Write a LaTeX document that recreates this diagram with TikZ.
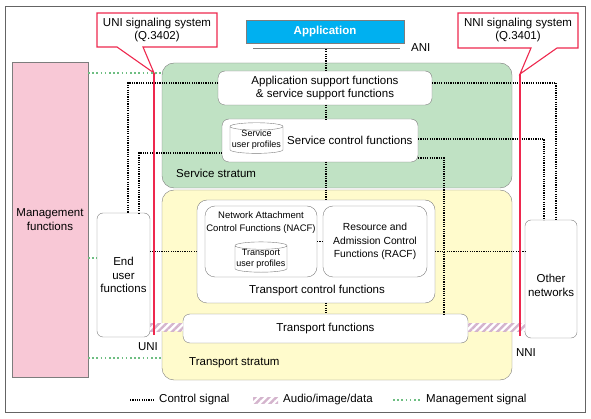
\documentclass[tikz,border=0pt]{standalone}
\usepackage{fontspec}
\setmainfont{Liberation Sans}
\usetikzlibrary{shapes.geometric,patterns.meta,positioning}
\definecolor{svcgreen}{RGB}{192,226,196}
\definecolor{trayellow}{RGB}{255,251,204}
\definecolor{mgmtpink}{RGB}{248,200,214}
\definecolor{appblue}{RGB}{0,176,240}
\definecolor{sigred}{RGB}{238,40,78}
\definecolor{mgmtgreen}{RGB}{110,190,130}
\definecolor{hatchpink}{RGB}{212,180,205}
\definecolor{boxgray}{RGB}{125,125,125}
\tikzset{
	fbox/.style={draw=boxgray, fill=white, rounded corners=7pt, inner sep=0pt, outer sep=0pt, align=center},
	stratum/.style={draw=boxgray, rounded corners=12pt, inner sep=0pt, outer sep=0pt},
	profile/.style={cylinder, shape border rotate=90, aspect=0.15, draw=boxgray, fill=white,
		inner sep=0pt, outer sep=0pt, align=center, font=\fontsize{9}{11}\selectfont},
	ctrl/.style={black, line width=1.8pt, dash pattern=on 1.2pt off 1.1pt}, % control signal
	mgmt/.style={mgmtgreen, line width=1.6pt, dash pattern=on 1.6pt off 2.6pt}, % management signal
	avdata/.style={preaction={fill=white}, pattern={Lines[angle=45,distance=5pt,line width=2.4pt]}, pattern color=hatchpink},
	sigline/.style={sigred, line width=2pt},
	callout/.style={draw=sigred, fill=white, line width=1.1pt, line join=miter},
	plain/.style={inner sep=0pt, align=center},
}
\begin{document}
\begin{tikzpicture}[x=1pt, y=-1pt, font=\fontsize{11.5}{13.5}\selectfont]
	\useasboundingbox (0,0) rectangle (591,419);
	\draw[boxgray!80!black, line width=0.8pt] (5,6) rectangle (585,412);

	% strata
	\node[stratum, fill=svcgreen, minimum width=350, minimum height=125] (svcstr) at (337,125.5) {};
	\node[stratum, fill=trayellow, minimum width=350, minimum height=190] (trstr) at (337,285) {};
	\node[plain, anchor=west] (svclbl) at (176,173) {Service stratum};
	\node[plain, anchor=west] (trlbl) at (189,363) {Transport stratum};

	% application and service stratum
	\node[draw=boxgray, fill=appblue, text=white, font=\bfseries\fontsize{11.5}{13.5}\selectfont,
		minimum width=158, minimum height=23, inner sep=0pt] (app) at (325,31.5) {Application};
	\coordinate (anil) at (253,49);
	\coordinate (anir) at (400,49);
	\draw[boxgray, line width=1pt] (anil) -- (anir);
	\node[plain, anchor=west] (anilbl) at (411,48) {ANI};
	\node[fbox, minimum width=214, minimum height=34] (appsup) at (325,88) {Application support functions\\\& service support functions};
	\node[fbox, minimum width=196, minimum height=43] (svc) at (320,140.5) {};
	\node[profile, minimum width=53, minimum height=30] (svcprof) at (256.5,140) {Service\\user profiles};
	\node[plain, right=4pt of svcprof] (svctxt) {Service control functions};

	% transport stratum
	\node[fbox, rounded corners=10pt, minimum width=238, minimum height=103] (tcf) at (316,251.5) {};
	\node[plain] (tcftxt) at (317,291) {Transport control functions};
	\node[fbox, rounded corners=10pt, minimum width=112, minimum height=71] (nacf) at (261,241.5) {};
	\node[plain, font=\fontsize{9.5}{13}\selectfont] (nacftxt) at (261,222.5) {Network Attachment\\Control Functions (NACF)};
	\node[profile, minimum width=52, minimum height=30] (tprof) at (261,259) {Transport\\user profiles};
	\node[fbox, rounded corners=10pt, minimum width=104, minimum height=71,
		font=\fontsize{10.3}{13.5}\selectfont] (racf) at (375,241.5) {Resource and\\Admission Control\\Functions (RACF)};
	\node[fbox, minimum width=285, minimum height=29] (tf) at (325.5,328.5) {Transport functions};

	% outside boxes
	\node[fbox, rounded corners=6pt, minimum width=53, minimum height=124] (enduser) at (123.5,275) {End\\user\\functions};
	\node[fbox, rounded corners=6pt, minimum width=52, minimum height=118] (other) at (551,279) {};
	\node[plain] (othertxt) at (551,285.5) {Other\\networks};
	\node[fbox, rounded corners=0pt, fill=mgmtpink, minimum width=76, minimum height=315] (mgmt) at (50,219.5) {Management\\functions};

	% audio/image/data
	\path[avdata] (enduser.east |- 0,323) rectangle (tf.west |- 0,331);
	\path[avdata] (tf.east |- 0,323) rectangle (other.west |- 0,331);

	% control signals
	\coordinate (axis) at (326,0);
	\draw[ctrl] (axis |- anil) -- (axis |- appsup.north);
	\draw[ctrl] (axis |- appsup.south) -- (axis |- svc.north);
	\draw[ctrl] (axis |- svc.south) -- (axis |- tcf.north);
	\draw[ctrl] (axis |- tcf.south) -- (axis |- tf.north);
	\draw[ctrl] ([yshift=5pt]appsup.west) -| ([xshift=4.5pt]enduser.north);
	\draw[ctrl] ([yshift=-12.5pt]svc.west) -| ([xshift=15.5pt]enduser.north);
	\draw[ctrl] (tcf.west) -- (tcf.west -| enduser.east);
	\draw[ctrl] ([yshift=5pt]appsup.east) -| ([xshift=5pt]other.north);
	\draw[ctrl] ([yshift=1.5pt]svc.east) -| ([xshift=-7pt]other.north);
	\draw[ctrl] ([yshift=-17.5pt]svc.east) -| ([xshift=118.5pt]tf.north);
	\draw[ctrl] (tcf.east) -- (tcf.east -| other.west);
	\draw[ctrl] (nacf.east) -- (racf.west);

	% signaling systems
	\coordinate (uniapex) at (154,73);
	\coordinate (uniend) at (154,335);
	\coordinate (nniapex) at (520,74);
	\coordinate (nniend) at (520,336);
	\draw[callout] (97,13) -- (217,13) -- (217,47) -- (143,47) -- (uniapex) -- (117,47) -- (97,47) -- cycle;
	\node[plain] (unitxt) at (157,30) {UNI signaling system\\(Q.3402)};
	\draw[callout] (458,13) -- (578,13) -- (578,48) -- (557,48) -- (nniapex) -- (531,48) -- (458,48) -- cycle;
	\node[plain] (nnitxt) at (518,30) {NNI signaling system\\(Q.3401)};
	\draw[sigline] (uniapex) -- (uniend);
	\draw[sigline] (nniapex) -- (nniend);
	\node[plain] (unilbl) at (148,347) {UNI};
	\node[plain] (nnilbl) at (526,353) {NNI};

	% management signals
	\draw[mgmt] (mgmt.east |- uniapex) -- (svcstr.west |- uniapex);
	\draw[mgmt] ([yshift=-38.5pt]mgmt.east) -- ([yshift=17pt]enduser.west);
	\draw[mgmt] ([yshift=-138.5pt]mgmt.east) -- ([yshift=-73pt]trstr.west);

	% legend
	\coordinate (lc1) at (130,400);
	\coordinate (lc2) at (155,400);
	\draw[ctrl, line width=1.5pt] (lc1) -- (lc2);
	\node[plain, anchor=west] (lctxt) at (159,400) {Control signal};
	\coordinate (la1) at (253,397);
	\coordinate (la2) at (278,403);
	\path[avdata] (la1) rectangle (la2);
	\node[plain, anchor=west] (latxt) at (283,400) {Audio/image/data};
	\coordinate (lm1) at (393,400);
	\coordinate (lm2) at (422,400);
	\draw[mgmt] (lm1) -- (lm2);
	\node[plain, anchor=west] (lmtxt) at (426,400) {Management signal};
\end{tikzpicture}
\end{document}
